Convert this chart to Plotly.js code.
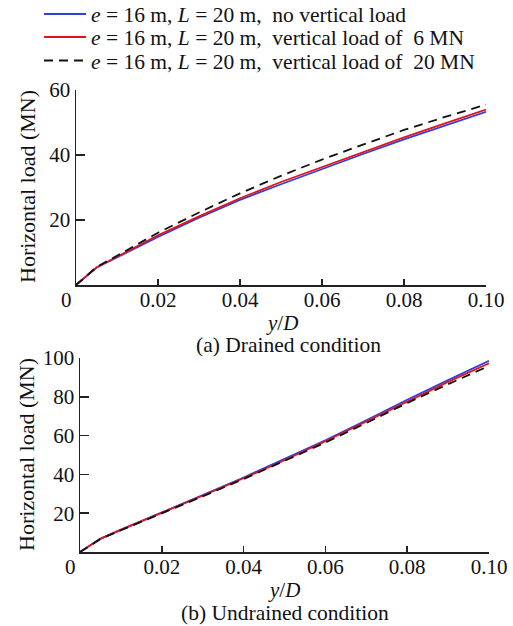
<!DOCTYPE html>
<html>
<head>
<meta charset="utf-8">
<script src="https://cdn.plot.ly/plotly-3.0.1.min.js"></script>
<style>html,body{margin:0;padding:0;background:#fff;}#chart{width:513px;height:626px;}</style>
</head>
<body>
<div id="chart"></div>
<script>
// ---- data ----
const yD = [0, 0.005, 0.01, 0.015, 0.02, 0.03, 0.04, 0.05, 0.06, 0.07, 0.08, 0.09, 0.10];
// (a) Drained condition
const drainedNoVert = [0, 5.4, 8.5, 11.6, 14.8, 20.7, 26.2, 31.0, 35.7, 40.3, 44.8, 49.1, 53.3];
const drained6MN    = [0, 5.4, 8.7, 12.0, 15.3, 21.1, 26.7, 31.7, 36.3, 40.8, 45.4, 49.7, 54.0];
const drained20MN   = [0, 5.5, 9.0, 12.6, 16.1, 22.3, 28.2, 33.6, 38.6, 43.2, 47.7, 51.7, 55.5];
// (b) Undrained condition
const undrainedNoVert = [0, 6.9, 11.5, 15.9, 20.4, 29.3, 38.4, 47.8, 57.6, 67.9, 78.5, 88.6, 98.6];
const undrained6MN    = [0, 6.8, 11.4, 15.7, 20.2, 29.0, 38.0, 47.3, 57.1, 67.3, 77.8, 87.7, 97.3];
const undrained20MN   = [0, 6.7, 11.2, 15.5, 20.0, 28.7, 37.6, 46.8, 56.4, 66.5, 76.8, 86.5, 95.9];
const seriesNames = [
  '<i>e</i> = 16 m, <i>L</i> = 20 m,  no vertical load',
  '<i>e</i> = 16 m, <i>L</i> = 20 m,  vertical load of  6 MN',
  '<i>e</i> = 16 m, <i>L</i> = 20 m,  vertical load of  20 MN'
];
const xTickVals = [0.02, 0.04, 0.06, 0.08, 0.10];
const xTickText = ['0.02', '0.04', '0.06', '0.08', '0.10'];
const yTickValsA = [20, 40, 60];
const yTickValsB = [20, 40, 60, 80, 100];

// ---- style ----
const W = 513, H = 626;
const FONT = 'Liberation Serif';
const colors = ['#2f3fe0', '#e4141b', '#111111'];
const dashes = ['solid', 'solid', '9px,6px'];
const legendIds = ['legend', 'legend2', 'legend3'];
const legendRowsPx = [14, 37, 60.5];
const px = v => v / W, py = v => 1 - v / H;

const groups = [
  {x: 'x', y: 'y', data: [drainedNoVert, drained6MN, drained20MN]},
  {x: 'x2', y: 'y2', data: [undrainedNoVert, undrained6MN, undrained20MN]}
];
const traces = [];
groups.forEach((g, gi) => {
  g.data.forEach((vals, si) => {
    traces.push({
      x: yD, y: vals, xaxis: g.x, yaxis: g.y, type: 'scatter', mode: 'lines',
      name: seriesNames[si], showlegend: gi === 0, legend: legendIds[si],
      line: {color: colors[si], width: 1.8, dash: dashes[si]}
    });
  });
});

const axBase = {
  showline: true, linecolor: '#222', linewidth: 1.5, mirror: false,
  showgrid: false, zeroline: false, ticks: 'inside', tickcolor: '#222', tickwidth: 1.5,
  tickfont: {family: FONT, size: 21, color: '#111'}, fixedrange: true
};
const xAx = {tickmode: 'array', tickvals: xTickVals, ticktext: xTickText, ticklen: 6, ticklabelstandoff: -5, range: [0, 0.1]};
const layout = {
  width: W, height: H, autosize: false,
  margin: {l: 0, r: 0, t: 0, b: 0, autoexpand: false},
  paper_bgcolor: '#fff', plot_bgcolor: '#fff',
  font: {family: FONT, size: 21, color: '#111'},
  xaxis: Object.assign({}, axBase, xAx, {domain: [px(76), px(486)], anchor: 'y'}),
  yaxis: Object.assign({}, axBase, {domain: [py(285), py(90)], range: [0, 60], anchor: 'x',
    tickmode: 'array', tickvals: yTickValsA, ticklen: 9}),
  xaxis2: Object.assign({}, axBase, xAx, {domain: [px(80), px(489)], anchor: 'y2'}),
  yaxis2: Object.assign({}, axBase, {domain: [py(552), py(358)], range: [0, 100], anchor: 'x2',
    tickmode: 'array', tickvals: yTickValsB, ticklen: 9}),
  showlegend: true,
  annotations: [
    {text: '0', x: px(66), y: py(300), xref: 'paper', yref: 'paper', showarrow: false, xanchor: 'center', yanchor: 'middle'},
    {text: '0', x: px(70), y: py(567), xref: 'paper', yref: 'paper', showarrow: false, xanchor: 'center', yanchor: 'middle'},
    {text: '<i>y</i>/<i>D</i>', x: px(282), y: py(323), xref: 'paper', yref: 'paper', showarrow: false, yanchor: 'middle'},
    {text: '(a) Drained condition', x: px(288), y: py(345), xref: 'paper', yref: 'paper', showarrow: false, yanchor: 'middle', font: {size: 21.5}},
    {text: '<i>y</i>/<i>D</i>', x: px(284), y: py(590), xref: 'paper', yref: 'paper', showarrow: false, yanchor: 'middle'},
    {text: '(b) Undrained condition', x: px(285), y: py(613), xref: 'paper', yref: 'paper', showarrow: false, yanchor: 'middle', font: {size: 21.5}},
    {text: 'Horizontal load (MN)', x: px(28), y: py(187), xref: 'paper', yref: 'paper', showarrow: false, textangle: -90, xanchor: 'center', yanchor: 'middle', font: {size: 22}},
    {text: 'Horizontal load (MN)', x: px(27), y: py(455), xref: 'paper', yref: 'paper', showarrow: false, textangle: -90, xanchor: 'center', yanchor: 'middle', font: {size: 22}}
  ]
};
legendIds.forEach((id, i) => {
  layout[id] = {x: px(39), y: py(legendRowsPx[i]), xref: 'container', yref: 'container',
    xanchor: 'left', yanchor: 'middle',
    bgcolor: 'rgba(0,0,0,0)', borderwidth: 0, itemwidth: 42,
    font: {family: FONT, size: 21.5, color: '#111'}};
});
Plotly.newPlot('chart', traces, layout, {staticPlot: true, displayModeBar: false});
</script>
</body>
</html>
